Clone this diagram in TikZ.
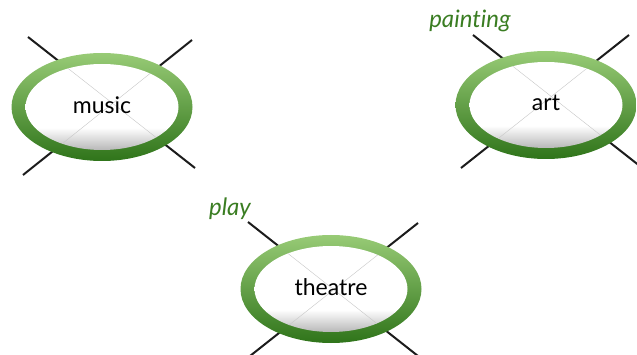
\documentclass[tikz,border=0pt]{standalone}
\usepackage{fontspec}
\setmainfont{Lato}[Ligatures=NoCommon]
\usetikzlibrary{shapes.geometric}
\definecolor{RingLight}{HTML}{98CB76}
\definecolor{RingMid}{HTML}{4E9C2C}
\definecolor{RingDark}{HTML}{2F741A}
\definecolor{TagGreen}{HTML}{3A7D22}
\definecolor{SpokeInk}{HTML}{1C1C1C}
\pgfdeclareverticalshading{coreshade}{100bp}{color(0bp)=(black!28);
  color(25bp)=(black!28); color(38bp)=(white); color(100bp)=(white)}
\tikzset{
  spoke/.style={draw=SpokeInk,line width=2pt},
  ghost/.style={draw=black!22,line width=0.4pt},
  ring/.style={ellipse,minimum width=181pt,minimum height=108pt,inner sep=0pt,
    top color=RingLight,middle color=RingMid,bottom color=RingDark},
  core/.style={ellipse,minimum width=153pt,minimum height=86pt,inner sep=0pt,
    shading=coreshade},
  word/.style={font=\fontsize{23}{27}\selectfont,yshift=2pt},
  tag/.style={font=\fontsize{24}{28}\selectfont\itshape,text=TagGreen}
}

\begin{document}
\begin{tikzpicture}[x=1pt,y=-1pt]
  \useasboundingbox (0,0) rectangle (637,355);
  % music
  \coordinate (mus) at (102,107);
  \coordinate (mus-nw) at (28,37);
  \coordinate (mus-ne) at (192,40);
  \coordinate (mus-sw) at (23,175);
  \coordinate (mus-se) at (195,168);
  \draw[spoke] (mus-nw) -- (mus-se);
  \draw[spoke] (mus-ne) -- (mus-sw);
  \node[ring] (mus-ring) at (mus) {};
  \node[core] (mus-core) at (mus) {};
  \begin{scope}
    \clip (mus) ellipse (76.5 and 43);
    \draw[ghost] (mus-nw) -- (mus-se);
    \draw[ghost] (mus-ne) -- (mus-sw);
  \end{scope}
  \node[word] (mus-text) at (mus) {music};
  % art
  \coordinate (art) at (546,105);
  \coordinate (art-nw) at (473,35);
  \coordinate (art-ne) at (629,35);
  \coordinate (art-sw) at (461,168);
  \coordinate (art-se) at (650,174);
  \draw[spoke] (art-nw) -- (art-se);
  \draw[spoke] (art-ne) -- (art-sw);
  \node[ring] (art-ring) at (art) {};
  \node[core] (art-core) at (art) {};
  \begin{scope}
    \clip (art) ellipse (76.5 and 43);
    \draw[ghost] (art-nw) -- (art-se);
    \draw[ghost] (art-ne) -- (art-sw);
  \end{scope}
  \node[word] (art-text) at (art) {art};
  \node[tag] (painting) at (470,21) {painting};
  % theatre
  \coordinate (thea) at (331,289);
  \coordinate (thea-nw) at (248,222);
  \coordinate (thea-ne) at (418,223);
  \coordinate (thea-sw) at (250,356);
  \coordinate (thea-se) at (418,356);
  \draw[spoke] (thea-nw) -- (thea-se);
  \draw[spoke] (thea-ne) -- (thea-sw);
  \node[ring] (thea-ring) at (thea) {};
  \node[core] (thea-core) at (thea) {};
  \begin{scope}
    \clip (thea) ellipse (76.5 and 43);
    \draw[ghost] (thea-nw) -- (thea-se);
    \draw[ghost] (thea-ne) -- (thea-sw);
  \end{scope}
  \node[word] (thea-text) at (thea) {theatre};
  \node[tag] (play) at (230,209) {play};
\end{tikzpicture}
\end{document}
